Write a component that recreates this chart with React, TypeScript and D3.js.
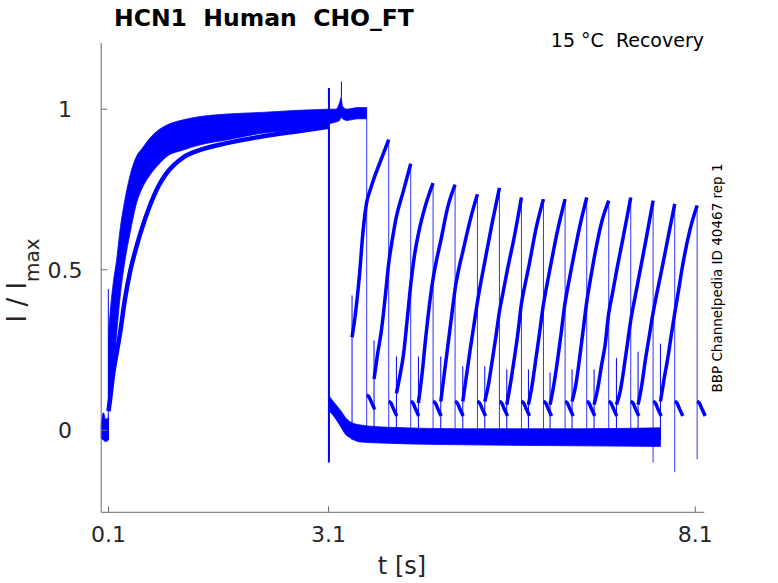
import React, { useEffect, useRef } from "react";
import * as d3 from "d3";

// axis ticks
const xTicks = [0.1, 3.1, 8.1];
const xTickLabels = ["0.1", "3.1", "8.1"];
const yTicks = [0, 0.5, 1];
const yTickLabels = ["0", "0.5", "1"];

// holding level before the prepulse (noise envelope)
const leadTime = [0, 0.03, 0.06, 0.1];
const leadHigh = [0.02, 0.055, 0.035, 0.04];
const leadLow = [-0.025, -0.03, -0.035, -0.03];

// prepulse: envelope of the fast group and the single slow trace
const preTime = [0.1, 0.12, 0.165, 0.21, 0.255, 0.325, 0.39, 0.485, 0.55, 0.665, 0.78, 0.89, 1.12, 1.35, 1.73, 2.19, 2.64, 3.1];
const preFastHigh = [0.3, 0.36, 0.46, 0.53, 0.62, 0.72, 0.79, 0.855, 0.875, 0.91, 0.935, 0.95, 0.967, 0.977, 0.985, 0.99, 0.996, 1.0];
const preFastLow = [0.06, 0.126, 0.2, 0.3, 0.41, 0.53, 0.61, 0.71, 0.75, 0.795, 0.827, 0.852, 0.873, 0.889, 0.905, 0.925, 0.935, 0.95];
const preSlow = [0.06, 0.095, 0.18, 0.24, 0.3, 0.41, 0.49, 0.575, 0.625, 0.7, 0.76, 0.8, 0.85, 0.873, 0.895, 0.915, 0.93, 0.945];

// first sweep, no gap: stays activated until 3.62 s
const holdTime = [3.1, 3.2, 3.25, 3.27, 3.29, 3.35, 3.5, 3.62];
const holdHigh = [1.0, 1.0, 1.02, 1.035, 1.01, 1.0, 1.005, 1.005];
const holdLow = [0.955, 0.96, 0.965, 0.975, 0.97, 0.965, 0.97, 0.97];
const holdEnd = 3.62;

// deactivating gap shared by all later sweeps
const gapTime = [3.1, 3.13, 3.2, 3.27, 3.33, 3.4, 3.53, 3.9, 5.0, 6.5, 7.625];
const gapHigh = [0.11, 0.1, 0.08, 0.06, 0.04, 0.026, 0.017, 0.01, 0.005, 0.005, 0.008];
const gapLow = [0.06, 0.055, 0.035, 0.01, -0.012, -0.024, -0.036, -0.04, -0.045, -0.048, -0.05];

// test pulses of sweeps 2..16
const testStart = [3.42, 3.72, 4.025, 4.325, 4.63, 4.93, 5.23, 5.53, 5.825, 6.12, 6.42, 6.72, 7.025, 7.32, 7.625];
const testEnd = [3.92, 4.22, 4.525, 4.825, 5.13, 5.43, 5.73, 6.03, 6.325, 6.62, 6.92, 7.22, 7.525, 7.82, 8.125];
const spikeTop = [0.42, 0.28, 0.23, 0.23, 0.23, 0.2, 0.2, 0.19, 0.19, 0.18, 0.19, 0.19, 0.225, 0.245, 0.27];
const endDip = [-0.03, -0.03, -0.03, -0.03, -0.03, -0.03, -0.03, -0.03, -0.03, -0.03, -0.03, -0.03, -0.1, -0.13, -0.09];

// current during each test pulse, sampled at riseOffset seconds after its start
const riseOffset = [0, 0.05, 0.1, 0.15, 0.2, 0.25, 0.3, 0.4, 0.5];
const riseCurves = [
  [0.29, 0.37, 0.48, 0.62, 0.71, 0.75, 0.785, 0.845, 0.905],
  [0.16, 0.24, 0.31, 0.41, 0.52, 0.595, 0.66, 0.745, 0.83],
  [0.115, 0.173, 0.242, 0.352, 0.463, 0.55, 0.612, 0.703, 0.77],
  [0.085, 0.176, 0.289, 0.39, 0.472, 0.533, 0.585, 0.695, 0.765],
  [0.09, 0.18, 0.27, 0.36, 0.447, 0.507, 0.556, 0.654, 0.735],
  [0.09, 0.17, 0.25, 0.325, 0.4, 0.465, 0.525, 0.645, 0.755],
  [0.09, 0.142, 0.215, 0.29, 0.37, 0.43, 0.49, 0.6, 0.725],
  [0.08, 0.145, 0.22, 0.3, 0.395, 0.455, 0.51, 0.63, 0.72],
  [0.08, 0.14, 0.22, 0.3, 0.385, 0.45, 0.51, 0.625, 0.72],
  [0.08, 0.14, 0.215, 0.3, 0.39, 0.455, 0.515, 0.63, 0.725],
  [0.09, 0.14, 0.22, 0.31, 0.4, 0.47, 0.535, 0.645, 0.715],
  [0.08, 0.13, 0.2, 0.265, 0.365, 0.425, 0.488, 0.605, 0.725],
  [0.08, 0.12, 0.19, 0.27, 0.35, 0.41, 0.47, 0.59, 0.715],
  [0.08, 0.14, 0.22, 0.29, 0.36, 0.42, 0.475, 0.59, 0.705],
  [0.09, 0.16, 0.225, 0.3, 0.372, 0.44, 0.51, 0.622, 0.7],
];

// tail current after each test pulse
const tailOffset = [0, 0.03, 0.06, 0.09, 0.11];
const tailValue = [0.09, 0.085, 0.07, 0.055, 0.045];

// capacitive spikes: time, low, high
const spikeTime = [0.097, 3.105, 3.275];
const spikeLow = [-0.03, -0.1, 0.98];
const spikeHigh = [0.44, 1.066, 1.086];

export default function App() {
  const svgRef = useRef<SVGSVGElement | null>(null);

  useEffect(() => {
    if (!svgRef.current) return;
    const svg = d3.select(svgRef.current);
    svg.selectAll("*").remove();

    const blue = "#0000ff";
    const ink = "#262626";
    const font = "DejaVu Sans, sans-serif";

    const x = d3.scaleLinear().domain([0, 8.223]).range([101.2, 704.3]);
    const y = d3.scaleLinear().domain([-0.255, 1.206]).range([512.3, 43]);

    const plot = svg.append("g");

    const band = (ts: number[], hi: number[], lo: number[]) => {
      const area = d3.area<number>()
        .x((i) => x(ts[i]))
        .y0((i) => y(lo[i]))
        .y1((i) => y(hi[i]))
        .curve(d3.curveMonotoneX);
      plot.append("path")
        .datum(d3.range(ts.length))
        .attr("fill", blue)
        .attr("stroke", blue)
        .attr("stroke-width", 0.8)
        .attr("d", area);
    };

    const trace = (ts: number[], vs: number[], w: number) => {
      const line = d3.line<number>()
        .x((i) => x(ts[i]))
        .y((i) => y(vs[i]))
        .curve(d3.curveMonotoneX);
      plot.append("path")
        .datum(d3.range(ts.length))
        .attr("fill", "none")
        .attr("stroke", blue)
        .attr("stroke-width", w)
        .attr("stroke-linejoin", "round")
        .attr("d", line);
    };

    const vline = (t: number, v0: number, v1: number, w: number) => {
      plot.append("line")
        .attr("x1", x(t)).attr("x2", x(t))
        .attr("y1", y(v0)).attr("y2", y(v1))
        .attr("stroke", blue)
        .attr("stroke-width", w);
    };

    // before and during the prepulse
    band(leadTime, leadHigh, leadLow);
    band(preTime, preFastHigh, preFastLow);
    trace(preTime, preSlow, 4.5);

    // gap baseline and first sweep
    band(gapTime, gapHigh, gapLow);
    band(holdTime, holdHigh, holdLow);
    vline(holdEnd, -0.03, holdLow[holdLow.length - 1], 0.8);
    trace(tailOffset.map((o) => holdEnd + o), tailValue.map((v) => v + 0.02), 3.5);

    // test pulses
    testStart.forEach((t0, k) => {
      const curve = riseCurves[k];
      vline(t0, -0.03, spikeTop[k], 1);
      trace(riseOffset.map((o) => t0 + o), curve, 3.5);
      vline(testEnd[k], endDip[k], curve[curve.length - 1], 0.8);
      trace(tailOffset.map((o) => testEnd[k] + o), tailValue, 3.5);
    });

    spikeTime.forEach((t, i) => vline(t, spikeLow[i], spikeHigh[i], i === 1 ? 2 : 1));

    // axes (box off)
    const axis = svg.append("g").attr("stroke", "#6a6a6a").attr("stroke-width", 1).attr("fill", "none");
    axis.append("line").attr("x1", 101.2).attr("x2", 101.2).attr("y1", y.range()[1]).attr("y2", y.range()[0]);
    axis.append("line").attr("x1", 101.2).attr("x2", x.range()[1]).attr("y1", 512.3).attr("y2", 512.3);
    yTicks.forEach((v) => {
      axis.append("line").attr("x1", 101.2).attr("x2", 107.2).attr("y1", y(v)).attr("y2", y(v));
    });
    xTicks.forEach((t) => {
      axis.append("line").attr("x1", x(t)).attr("x2", x(t)).attr("y1", 512.3).attr("y2", 506.3);
    });

    const labels = svg.append("g").attr("font-family", font).attr("fill", ink);
    xTicks.forEach((t, i) => {
      labels.append("text")
        .attr("x", x(t)).attr("y", 541.5)
        .attr("text-anchor", "middle")
        .attr("font-size", 22)
        .text(xTickLabels[i]);
    });
    yTicks.forEach((v, i) => {
      labels.append("text")
        .attr("x", 65).attr("y", y(v) + 8)
        .attr("text-anchor", "middle")
        .attr("font-size", 22)
        .text(yTickLabels[i]);
    });

    labels.append("text")
      .attr("x", 402).attr("y", 573.5)
      .attr("text-anchor", "middle")
      .attr("font-size", 24)
      .text("t [s]");

    const ylab = labels.append("text")
      .attr("transform", "translate(26,322.5) rotate(-90)")
      .attr("font-size", 26)
      .text("I / I");
    ylab.append("tspan").attr("font-size", 20).attr("dy", 13).text("max");

    svg.append("text")
      .attr("x", 114).attr("y", 26)
      .attr("font-family", font)
      .attr("font-weight", "bold")
      .attr("font-size", 23.5)
      .attr("fill", "#000")
      .attr("xml:space", "preserve")
      .style("white-space", "pre")
      .text("HCN1  Human  CHO_FT");

    svg.append("text")
      .attr("x", 704).attr("y", 47)
      .attr("text-anchor", "end")
      .attr("font-family", font)
      .attr("font-size", 19)
      .attr("fill", "#000")
      .style("white-space", "pre")
      .text("15 °C  Recovery");

    svg.append("text")
      .attr("transform", "translate(721.5,278) rotate(-90)")
      .attr("text-anchor", "middle")
      .attr("font-family", font)
      .attr("font-size", 13.5)
      .attr("fill", "#000")
      .text("BBP Channelpedia ID 40467 rep 1");
  }, []);

  return (
    <svg
      ref={svgRef}
      width={778}
      height={583}
      style={{ position: "absolute", left: 0, top: 0, background: "#fff" }}
    />
  );
}
